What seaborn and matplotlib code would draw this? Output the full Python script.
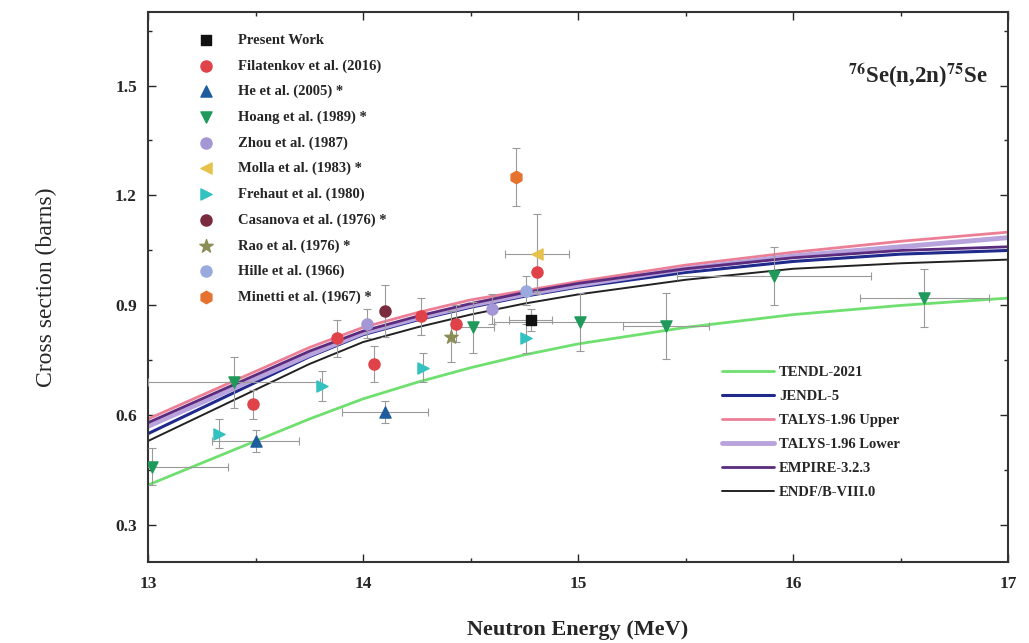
import matplotlib
matplotlib.use('Agg')
import matplotlib.pyplot as plt
import seaborn as sns
import numpy as np
import pandas as pd

# evaluated curves
energy_grid = [13.0, 13.25, 13.5, 13.75, 14.0, 14.25, 14.5, 14.75, 15.0, 15.5, 16.0, 16.5, 17.0]
tendl_2021 = [0.41, 0.47, 0.53, 0.59, 0.645, 0.69, 0.73, 0.765, 0.795, 0.84, 0.875, 0.90, 0.92]
jendl_5 = [0.55, 0.62, 0.69, 0.76, 0.82, 0.86, 0.895, 0.925, 0.95, 0.99, 1.02, 1.04, 1.05]
talys_upper = [0.59, 0.655, 0.72, 0.785, 0.84, 0.88, 0.915, 0.94, 0.965, 1.01, 1.045, 1.075, 1.10]
talys_lower = [0.57, 0.635, 0.70, 0.765, 0.825, 0.865, 0.90, 0.93, 0.955, 1.00, 1.035, 1.06, 1.085]
empire_323 = [0.58, 0.645, 0.71, 0.775, 0.83, 0.87, 0.905, 0.935, 0.96, 1.00, 1.03, 1.05, 1.06]
endf_b8 = [0.53, 0.60, 0.67, 0.74, 0.80, 0.84, 0.875, 0.905, 0.93, 0.97, 1.00, 1.015, 1.025]

# experimental data
present_x = [14.78]
present_y = [0.86]
present_dy = [0.03]
present_dx = [0.10]

filatenkov_x = [13.49, 13.88, 14.05, 14.27, 14.43, 14.81]
filatenkov_y = [0.63, 0.81, 0.74, 0.87, 0.85, 0.99]
filatenkov_dy = [0.04, 0.05, 0.05, 0.05, 0.05, 0.05]

he_x = [13.50, 14.10]
he_y = [0.53, 0.61]
he_dx = [0.20, 0.20]
he_dy = [0.03, 0.03]

hoang_x = [13.02, 13.40, 14.51, 15.01, 15.41, 15.91, 16.61]
hoang_y = [0.46, 0.69, 0.84, 0.855, 0.845, 0.98, 0.92]
hoang_dx = [0.35, 0.40, 0.10, 0.40, 0.20, 0.45, 0.30]
hoang_dy = [0.05, 0.07, 0.07, 0.08, 0.09, 0.08, 0.08]

zhou_x = [14.02, 14.60]
zhou_y = [0.85, 0.89]
zhou_dy = [0.04, 0.04]

molla_x = [14.81]
molla_y = [1.04]
molla_dx = [0.15]
molla_dy = [0.11]

frehaut_x = [13.33, 13.81, 14.28, 14.76]
frehaut_y = [0.55, 0.68, 0.73, 0.81]
frehaut_dy = [0.04, 0.04, 0.04, 0.04]

casanova_x = [14.10]
casanova_y = [0.885]
casanova_dy = [0.07]

rao_x = [14.41]
rao_y = [0.815]
rao_dy = [0.07]

hille_x = [14.76]
hille_y = [0.94]
hille_dy = [0.04]

minetti_x = [14.71]
minetti_y = [1.25]
minetti_dy = [0.08]

sns.set_style('ticks')
plt.rcParams['font.family'] = ['Liberation Serif', 'DejaVu Serif']
plt.rcParams['mathtext.fontset'] = 'stix'

fig = plt.figure(figsize=(10.29, 6.43), dpi=100)
ax = fig.add_axes([0.1438, 0.126, 0.836, 0.855])

# curves through seaborn
n = len(energy_grid)
curves = pd.DataFrame({
    'E': energy_grid * 6,
    'xs': tendl_2021 + jendl_5 + talys_upper + talys_lower + empire_323 + endf_b8,
    'lib': (['TENDL-2021'] * n + ['JENDL-5'] * n + ['TALYS-1.96 Upper'] * n
            + ['TALYS-1.96 Lower'] * n + ['EMPIRE-3.2.3'] * n + ['ENDF/B-VIII.0'] * n),
})
line_colors = {'TENDL-2021': '#6fe06f', 'JENDL-5': '#1f2a8c',
               'TALYS-1.96 Upper': '#ec7f96', 'TALYS-1.96 Lower': '#b9a3dc',
               'EMPIRE-3.2.3': '#5b2c7d', 'ENDF/B-VIII.0': '#222222'}
line_widths = {'TENDL-2021': 2.0, 'JENDL-5': 2.2, 'TALYS-1.96 Upper': 2.0,
               'TALYS-1.96 Lower': 3.5, 'EMPIRE-3.2.3': 2.0, 'ENDF/B-VIII.0': 1.4}
line_handles = []
for lib in line_colors:
    sub = curves[curves['lib'] == lib]
    sns.lineplot(data=sub, x='E', y='xs', color=line_colors[lib],
                 lw=line_widths[lib], ax=ax, label=lib, legend=False)
    line_handles.append(ax.lines[-1])

# data points
sets = [
    ('Present Work', present_x, present_y, present_dx, present_dy, 's', '#111111', 7),
    ('Filatenkov et al. (2016)', filatenkov_x, filatenkov_y, None, filatenkov_dy, 'o', '#e0424a', 8),
    ('He et al. (2005) *', he_x, he_y, he_dx, he_dy, '^', '#1f5c9e', 8),
    ('Hoang et al. (1989) *', hoang_x, hoang_y, hoang_dx, hoang_dy, 'v', '#1f9a5a', 8),
    ('Zhou et al. (1987)', zhou_x, zhou_y, None, zhou_dy, 'o', '#a597d6', 8),
    ('Molla et al. (1983) *', molla_x, molla_y, molla_dx, molla_dy, '<', '#e6c24d', 8),
    ('Frehaut et al. (1980)', frehaut_x, frehaut_y, None, frehaut_dy, '>', '#33c2c0', 8),
    ('Casanova et al. (1976) *', casanova_x, casanova_y, None, casanova_dy, 'o', '#7a2c3e', 8),
    ('Rao et al. (1976) *', rao_x, rao_y, None, rao_dy, '*', '#8c8c55', 10),
    ('Hille et al. (1966)', hille_x, hille_y, None, hille_dy, 'o', '#9aaade', 8),
    ('Minetti et al. (1967) *', minetti_x, minetti_y, None, minetti_dy, 'h', '#e5732f', 9),
]
point_handles = []
for label, x, y, dx, dy, m, c, s in sets:
    ax.errorbar(x, y, xerr=dx, yerr=dy, fmt='none', ecolor='#9a9a9a',
                elinewidth=0.8, capsize=3, capthick=0.8, zorder=3)
    h = ax.scatter(x, y, marker=m, color=c, s=s ** 2, zorder=4,
                   edgecolors=c, label=label)
    point_handles.append(h)

ax.set_xlim(13, 17)
ax.set_ylim(0.2, 1.7)
ax.set_xticks([13, 14, 15, 16, 17])
ax.set_yticks([0.3, 0.6, 0.9, 1.2, 1.5])
ax.set_xticks(np.arange(13.5, 17, 1), minor=True)
ax.set_yticks(np.arange(0.45, 1.7, 0.3), minor=True)
ax.tick_params(which='both', direction='in', top=True, right=True, width=1.0)
ax.tick_params(which='major', length=6)
ax.tick_params(which='minor', length=3)
ax.tick_params(axis='x', pad=10)
ax.tick_params(axis='y', pad=8)
for lab in ax.get_xticklabels() + ax.get_yticklabels():
    lab.set_fontweight('bold')
    lab.set_fontsize(12.5)
for sp in ax.spines.values():
    sp.set_linewidth(1.5)
    sp.set_color('#333333')

ax.set_xlabel('Neutron Energy (MeV)', fontsize=16, fontweight='bold', labelpad=20)
ax.set_ylabel('Cross section (barns)', fontsize=17, labelpad=42)

ax.text(0.895, 0.885, r'$^{\mathbf{76}}$Se(n,2n)$^{\mathbf{75}}$Se', transform=ax.transAxes,
        ha='center', va='center', fontsize=16.5, fontweight='bold')

leg1 = ax.legend(handles=point_handles, loc='upper left', bbox_to_anchor=(0.035, 0.985),
                 frameon=False, prop={'weight': 'bold', 'size': 10.5},
                 handletextpad=1.2, labelspacing=0.84, scatterpoints=1)
ax.add_artist(leg1)
ax.legend(handles=line_handles, loc='lower left', bbox_to_anchor=(0.652, 0.09),
          frameon=False, prop={'weight': 'bold', 'size': 10.5},
          handlelength=3.6, handletextpad=0.3, labelspacing=0.75)

fig.savefig('out.png', dpi=100)
